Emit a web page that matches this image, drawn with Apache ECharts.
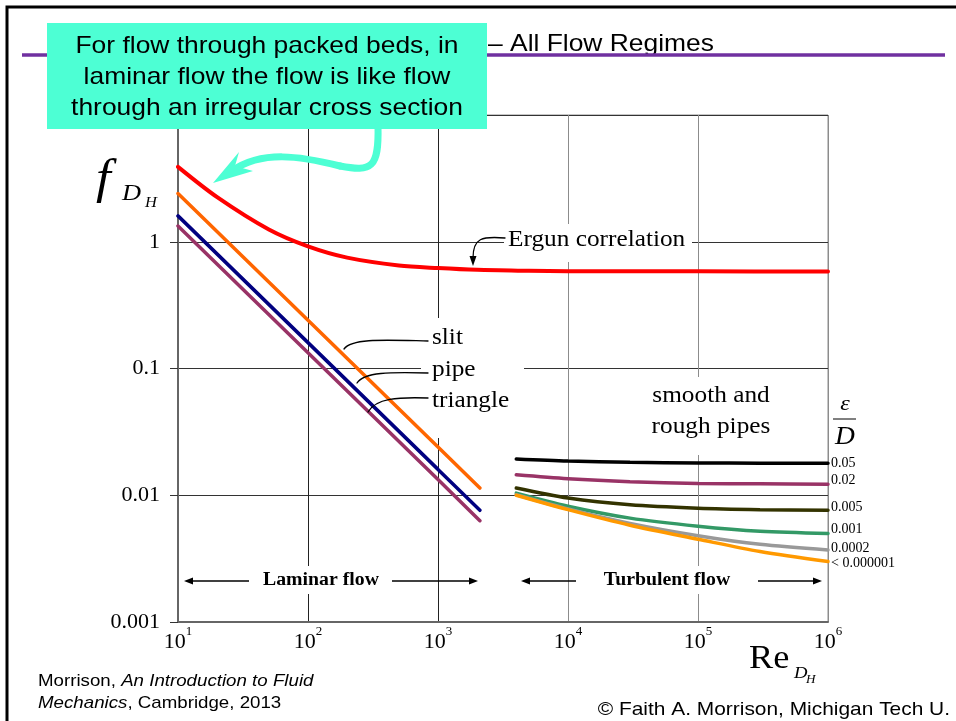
<!DOCTYPE html>
<html>
<head>
<meta charset="utf-8">
<script src="https://cdn.jsdelivr.net/npm/echarts@6/dist/echarts.min.js"></script>
<style>
  html, body { margin: 0; padding: 0; background: #fff; }
  #main { width: 956px; height: 721px; }
</style>
</head>
<body>
<div id="main"></div>
<script>
  // values (Re on x, Fanning friction factor on y)
  const xTickExp = ['1', '2', '3', '4', '5', '6'];
  const yTickLabels = ['0.001', '0.01', '0.1', '1'];

  const reErgun = [10, 20, 50, 100, 200, 500, 1000, 2000, 5000, 10000, 100000, 1000000];
  const fErgun = [3.9, 2.25, 1.25, 0.92, 0.75, 0.65, 0.62, 0.6, 0.59, 0.585, 0.584, 0.583];

  const reLaminar = [10, 100, 1000, 2100];
  const fSlit = [2.4, 0.24, 0.024, 0.0114];
  const fPipe = [1.6, 0.16, 0.016, 0.0076];
  const fTriangle = [1.33, 0.133, 0.0133, 0.0063];

  const reTurb = [4000, 10000, 30000, 100000, 300000, 1000000];
  const roughness = ['0.05', '0.02', '0.005', '0.001', '0.0002', '< 0.000001'];
  const f005 = [0.0193, 0.0186, 0.0182, 0.018, 0.0179, 0.0179];
  const f002 = [0.0145, 0.0135, 0.0128, 0.0124, 0.0123, 0.0122];
  const f0005 = [0.0114, 0.0095, 0.0084, 0.0079, 0.0077, 0.0076];
  const f0001 = [0.0104, 0.0082, 0.0066, 0.0057, 0.0052, 0.005];
  const f00002 = [0.0101, 0.0078, 0.006, 0.0048, 0.0041, 0.0037];
  const fSmooth = [0.01, 0.0077, 0.0058, 0.0045, 0.0036, 0.003];

  const serif = '"Liberation Serif", "Times New Roman", serif';
  const sans = '"Liberation Sans", Arial, sans-serif';
  const SX = 1.1; // the slide is a little stretched sideways

  const pairs = (xs, ys) => xs.map((x, i) => [x, ys[i]]);

  function curve(name, xs, ys, color, width, smooth, labelDy) {
    const s = {
      name: name,
      type: 'line',
      data: pairs(xs, ys),
      showSymbol: false,
      smooth: smooth,
      lineStyle: { color: color, width: width, cap: 'round' },
      z: 3,
    };
    if (labelDy !== undefined) {
      s.endLabel = {
        show: true,
        formatter: '{a}',
        distance: 3,
        offset: [0, labelDy],
        color: '#000',
        fontFamily: serif,
        fontSize: 14,
      };
    }
    return s;
  }

  const turbColors = ['#000000', '#993366', '#333300', '#339966', '#999999', '#FF9900'];
  const turbData = [f005, f002, f0005, f0001, f00002, fSmooth];
  const turbLabelDy = [0, -4, -3, -4, -2, 2];

  const series = [
    curve('Ergun correlation', reErgun, fErgun, '#FF0000', 4, 0.3),
    curve('slit', reLaminar, fSlit, '#FF6600', 3.5, false),
    curve('pipe', reLaminar, fPipe, '#000080', 3.5, false),
    curve('triangle', reLaminar, fTriangle, '#993366', 3.5, false),
  ];
  roughness.forEach((r, i) => {
    series.push(curve(r, reTurb, turbData[i], turbColors[i], 3.5, 0.3, turbLabelDy[i]));
  });

  function txt(text, x, y, font, opts, z) {
    return {
      type: 'text', x: x, y: y, z: z || 50, scaleX: SX,
      style: Object.assign({ text: text, font: font, fill: '#000', textAlign: 'left', textVerticalAlign: 'middle' }, opts || {}),
    };
  }
  function bez(p, color, w, z) {
    return {
      type: 'bezierCurve', z: z || 50,
      shape: { x1: p[0], y1: p[1], cpx1: p[2], cpy1: p[3], cpx2: p[4], cpy2: p[5], x2: p[6], y2: p[7] },
      style: { stroke: color || '#000', lineWidth: w || 1.3, fill: null, lineCap: 'round' },
    };
  }
  function seg(x1, y1, x2, y2, color, w) {
    return { type: 'line', z: 50, shape: { x1: x1, y1: y1, x2: x2, y2: y2 }, style: { stroke: color || '#000', lineWidth: w || 1.3 } };
  }
  function head(points, color, z) {
    return { type: 'polygon', z: z || 50, shape: { points: points }, style: { fill: color || '#000' } };
  }

  const teal = '#4DFFD4';
  const graphic = [
    // slide frame and title rule
    { type: 'rect', z: 40, shape: { x: 7, y: 7, width: 960, height: 730 }, style: { fill: null, stroke: '#000', lineWidth: 3 } },
    txt('\u2013 All Flow Regimes', 488, 44, '24px ' + sans),
    seg(22, 55, 945, 55, '#7030A0', 3.5),
    // white backgrounds that break the grid behind the labels
    { type: 'rect', z: 2, shape: { x: 421, y: 318, width: 103, height: 120 }, style: { fill: '#fff' } },
    { type: 'rect', z: 2, shape: { x: 504, y: 224, width: 188, height: 38 }, style: { fill: '#fff' } },
    { type: 'rect', z: 2, shape: { x: 640, y: 377, width: 140, height: 78 }, style: { fill: '#fff' } },
    { type: 'rect', z: 2, shape: { x: 256, y: 566, width: 132, height: 28 }, style: { fill: '#fff' } },
    { type: 'rect', z: 2, shape: { x: 596, y: 566, width: 142, height: 28 }, style: { fill: '#fff' } },
    // axis titles
    txt('f', 96, 180, 'italic 48px ' + serif),
    txt('D', 122, 194, 'italic 24px ' + serif),
    txt('H', 145, 203, 'italic 15px ' + serif),
    txt('Re', 749, 659, '33px ' + serif),
    txt('D', 794, 674, 'italic 17px ' + serif),
    txt('H', 806, 680, 'italic 12px ' + serif),
    // curve annotations
    txt('Ergun correlation', 508, 240, '23px ' + serif),
    bez([505, 238, 482, 236, 473, 238, 473, 258]),
    head([[473, 266], [469.5, 256], [476.5, 256]]),
    txt('slit', 432, 338, '23px ' + serif),
    bez([428, 341, 385, 340, 352, 338, 344, 349]),
    txt('pipe', 432, 370, '23px ' + serif),
    bez([428, 373, 390, 372, 364, 372, 357, 383]),
    txt('triangle', 432, 401, '23px ' + serif),
    bez([428, 398, 398, 397, 376, 398, 368, 412]),
    txt('smooth and', 711, 396, '23px ' + serif, { textAlign: 'center' }),
    txt('rough pipes', 711, 427, '23px ' + serif, { textAlign: 'center' }),
    txt('\u03b5', 845, 404, 'italic 22px ' + serif, { textAlign: 'center' }),
    seg(833, 419, 856, 419, '#000', 1),
    txt('D', 845, 437, 'italic 25px ' + serif, { textAlign: 'center' }),
    // flow regime arrows
    txt('Laminar flow', 321, 580, 'bold 18px ' + serif, { textAlign: 'center' }),
    seg(190, 581, 249, 581), head([[184, 581], [193, 577.5], [193, 584.5]]),
    seg(392, 581, 472, 581), head([[478, 581], [469, 577.5], [469, 584.5]]),
    txt('Turbulent flow', 667, 580, 'bold 18px ' + serif, { textAlign: 'center' }),
    seg(527, 581, 576, 581), head([[521, 581], [530, 577.5], [530, 584.5]]),
    seg(758, 581, 816, 581), head([[822, 581], [813, 577.5], [813, 584.5]]),
    // callout box and arrow
    { type: 'rect', z: 60, shape: { x: 47, y: 23, width: 440, height: 106 }, style: { fill: teal } },
    txt('For flow through packed beds, in', 267, 46, '24px ' + sans, { textAlign: 'center' }, 61),
    txt('laminar flow the flow is like flow', 267, 77, '24px ' + sans, { textAlign: 'center' }, 61),
    txt('through an irregular cross section', 267, 108, '24px ' + sans, { textAlign: 'center' }, 61),
    bez([378, 126, 379, 168, 372, 172, 340, 166], teal, 7, 60),
    bez([340, 166, 300, 156, 262, 150, 232, 171], teal, 7, 60),
    head([[213, 183], [239, 152], [235, 166], [253, 171]], teal, 60),
    // credits
    { type: 'text', x: 38, y: 681, z: 50, scaleX: SX, style: {
      text: 'Morrison, {i|An Introduction to Fluid}', font: '17px ' + sans, fill: '#000', textVerticalAlign: 'middle',
      rich: { i: { fontStyle: 'italic', fontSize: 17, fontFamily: sans } } } },
    { type: 'text', x: 38, y: 703, z: 50, scaleX: SX, style: {
      text: '{i|Mechanics}, Cambridge, 2013', font: '17px ' + sans, fill: '#000', textVerticalAlign: 'middle',
      rich: { i: { fontStyle: 'italic', fontSize: 17, fontFamily: sans } } } },
    txt('\u00a9 Faith A. Morrison, Michigan Tech U.', 950, 710, '19px ' + sans, { textAlign: 'right' }),
  ];

  const chart = echarts.init(document.getElementById('main'), null, { renderer: 'canvas' });
  chart.setOption({
    animation: false,
    backgroundColor: '#fff',
    grid: { left: 178, right: 128, top: 115, bottom: 99, show: true, borderColor: '#8c8c8c', borderWidth: 1 },
    xAxis: {
      type: 'log', logBase: 10, min: 10, max: 1000000, splitNumber: 5,
      axisLine: { lineStyle: { color: '#666', width: 2 } },
      axisTick: { show: false },
      splitLine: { show: true, lineStyle: { color: ['#8c8c8c', '#222', '#222', '#8c8c8c', '#8c8c8c', '#8c8c8c'], width: 1 } },
      axisLabel: {
        margin: 3,
        formatter: (v) => '{b|10}{s|' + xTickExp[Math.round(Math.log10(v)) - 1] + '}',
        rich: {
          b: { fontFamily: serif, fontSize: 22, lineHeight: 28, color: '#000', verticalAlign: 'bottom' },
          s: { fontFamily: serif, fontSize: 13, lineHeight: 14, color: '#000', verticalAlign: 'top' },
        },
      },
    },
    yAxis: {
      type: 'log', logBase: 10, min: 0.001, max: 10, splitNumber: 4,
      axisLine: { lineStyle: { color: '#666', width: 2 } },
      axisTick: { show: true, inside: false, length: 8, lineStyle: { color: '#333' } },
      splitLine: { show: true, lineStyle: { color: '#333', width: 1 } },
      axisLabel: {
        margin: 18,
        fontFamily: serif, fontSize: 22, color: '#000',
        formatter: (v) => yTickLabels[Math.round(Math.log10(v)) + 3] || '',
      },
    },
    series: series,
    graphic: graphic,
  });
</script>
</body>
</html>
